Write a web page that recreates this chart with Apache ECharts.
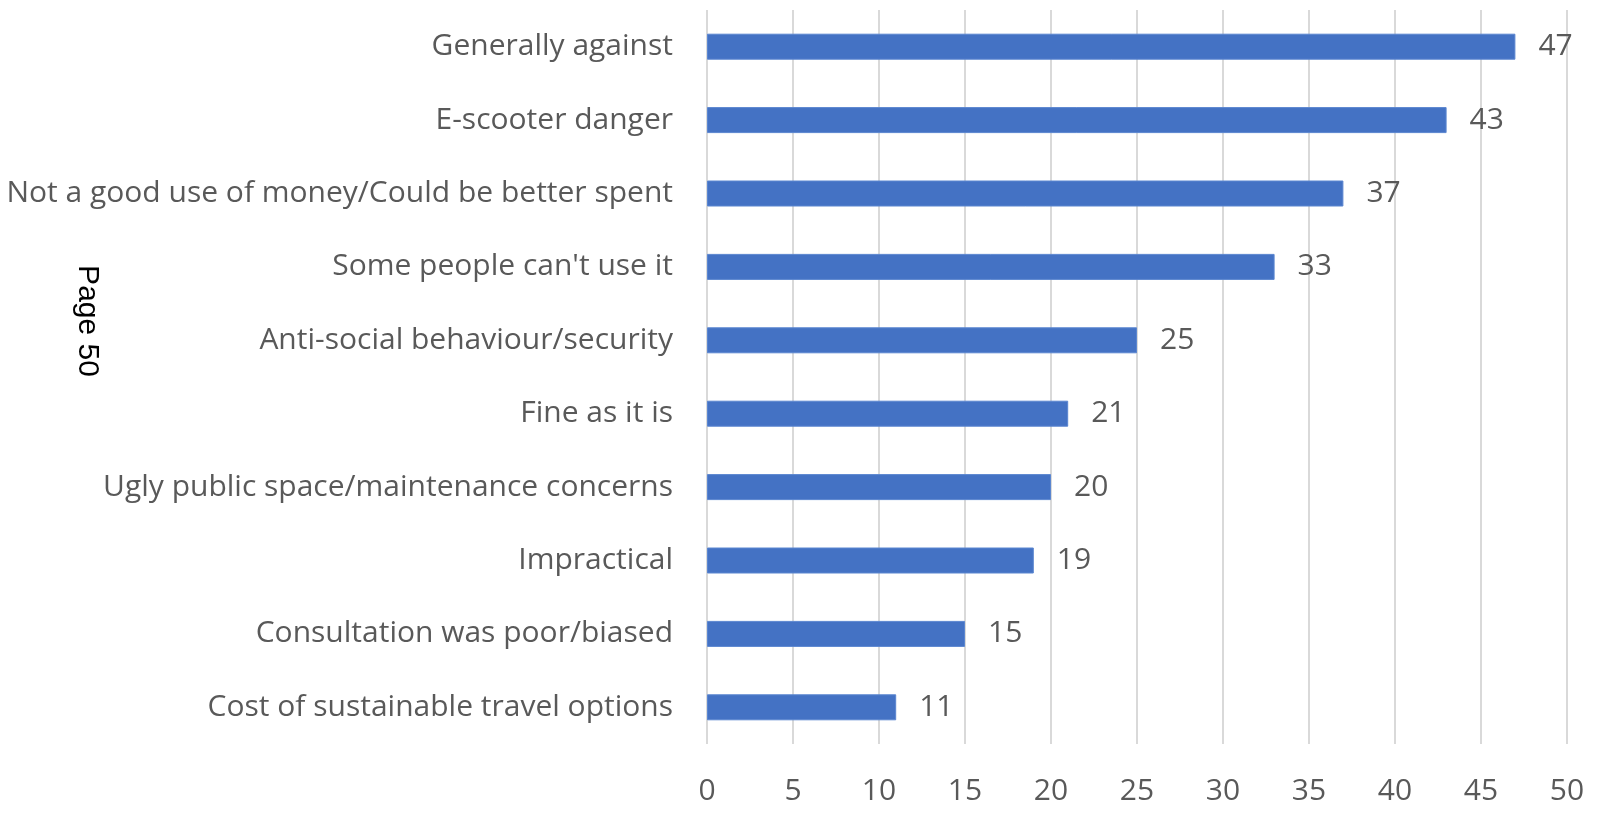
<!DOCTYPE html>
<html>
<head>
<meta charset="utf-8">
<style>
  html, body { margin: 0; padding: 0; background: #ffffff; }
  #chart { width: 1600px; height: 822px; }
</style>
<script src="https://cdn.jsdelivr.net/npm/echarts@6/dist/echarts.min.js"></script>
</head>
<body>
<div id="chart"></div>
<script>
const categories = [
  "Generally against",
  "E-scooter danger",
  "Not a good use of money/Could be better spent",
  "Some people can't use it",
  "Anti-social behaviour/security",
  "Fine as it is",
  "Ugly public space/maintenance concerns",
  "Impractical",
  "Consultation was poor/biased",
  "Cost of sustainable travel options"
];
const values = [47, 43, 37, 33, 25, 21, 20, 19, 15, 11];
const axisMin = 0;
const axisMax = 50;
const axisStep = 5;
const pageLabel = "Page 50";

const font = "'Open Sans', 'Noto Sans', sans-serif";
const textColor = "#595959";

const chart = echarts.init(document.getElementById('chart'), null, { renderer: 'canvas' });
chart.setOption({
  animation: false,
  backgroundColor: '#ffffff',
  grid: { left: 707, right: 33, top: 10, bottom: 78, containLabel: false },
  xAxis: {
    type: 'value',
    min: axisMin, max: axisMax, interval: axisStep,
    axisLine: { show: false },
    axisTick: { show: false },
    splitLine: { show: true, lineStyle: { color: '#d9d9d9', width: 2 } },
    axisLabel: { color: textColor, fontFamily: font, fontSize: 30, margin: 32 }
  },
  yAxis: {
    type: 'category',
    data: categories,
    inverse: true,
    axisLine: { show: false },
    axisTick: { show: false },
    axisLabel: { color: textColor, fontFamily: font, fontSize: 30, margin: 34 }
  },
  series: [{
    type: 'bar',
    data: values,
    barWidth: 26,
    itemStyle: { color: '#4472C4', borderColor: '#5b86d0', borderWidth: 1 },
    label: {
      show: true, position: 'right', distance: 23,
      color: textColor, fontFamily: font, fontSize: 30
    }
  }],
  graphic: [{
    type: 'text',
    x: 87, y: 321,
    rotation: -Math.PI / 2,
    style: {
      text: pageLabel,
      fill: '#000000',
      font: "30px 'Liberation Sans', Arial, sans-serif",
      align: 'center',
      verticalAlign: 'middle'
    }
  }]
});
</script>
</body>
</html>
